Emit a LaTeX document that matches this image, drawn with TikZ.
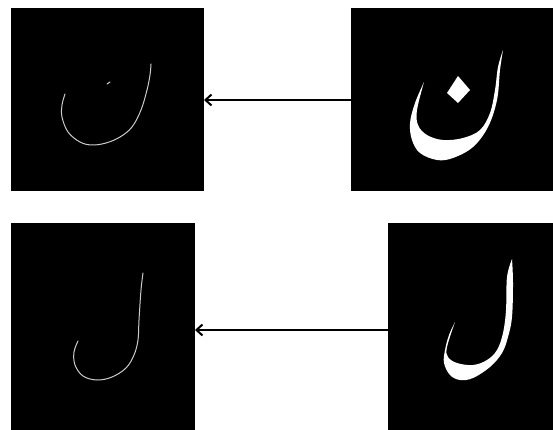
\documentclass[tikz,border=0pt]{standalone}
\usetikzlibrary{arrows.meta}
\begin{document}
\begin{tikzpicture}[x=1pt,y=-1pt,
  panel/.style={draw=none,fill=black,inner sep=0pt,outer sep=0pt,anchor=north west},
  arr/.style={line width=2pt,-{Straight Barb[length=6pt,width=11pt,line width=2pt]}},
  thin/.style={draw=white!80!black,line width=1pt,line cap=round}]
\useasboundingbox (0,0) rectangle (553,430);
\fill[white] (0,0) rectangle (553,430);
% panels
\node[panel,minimum width=193pt,minimum height=183pt] (tl) at (11,8) {};
\node[panel,minimum width=202pt,minimum height=183pt] (tr) at (351,8) {};
\node[panel,minimum width=184pt,minimum height=207pt] (bl) at (11,223) {};
\node[panel,minimum width=165pt,minimum height=207pt] (br) at (388,223) {};
% arrows
\draw[arr] (tr.west |- 0,100) -- (tl.east |- 0,100);
\draw[arr] (br.west |- 0,330) -- (bl.east |- 0,330);
% top-left thin noon
\draw[thin] plot[smooth,tension=0.6] coordinates{(65,94) (62,105) (62,117) (68,132) (80,142) (92,145) (106,143) (120,137) (132,127) (141,110) (147,90) (150,75) (151,64)};
\draw[thin] (107,84) -- (110,82);
% bottom-left thin lam
\draw[thin] plot[smooth,tension=0.6] coordinates{(78,341) (74,352) (75,365) (83,376) (97,380) (112,377) (126,368) (134,355) (138,340) (139,320) (141,290) (143,273)};
% top-right filled noon
\fill[white] plot[smooth,tension=0.6] coordinates{(424,82) (415,103) (410,123) (412,140) (420,153) (437,160) (453,158) (473,147) (488,127) (497,100) (500,70) (503,50)}
  -- plot[smooth,tension=0.6] coordinates{(503,50) (498,67) (495,90) (490,113) (480,130) (463,138) (443,140) (427,135) (418,125) (417,110) (424,82)} -- cycle;
\fill[white] (458,76) -- (470,90) -- (458,103) -- (447,93) -- cycle;
% bottom-right filled lam
\fill[white] plot[smooth,tension=0.6] coordinates{(512,259) (513,283) (512,317) (508,337) (502,353) (490,367) (473,378) (460,380) (450,375) (444,363) (445,350) (449,335) (455,322)}
  -- plot[smooth,tension=0.6] coordinates{(455,322) (447,347) (448,357) (457,363) (473,365) (487,360) (497,350) (503,333) (506,310) (507,277) (512,259)} -- cycle;
\end{tikzpicture}
\end{document}
